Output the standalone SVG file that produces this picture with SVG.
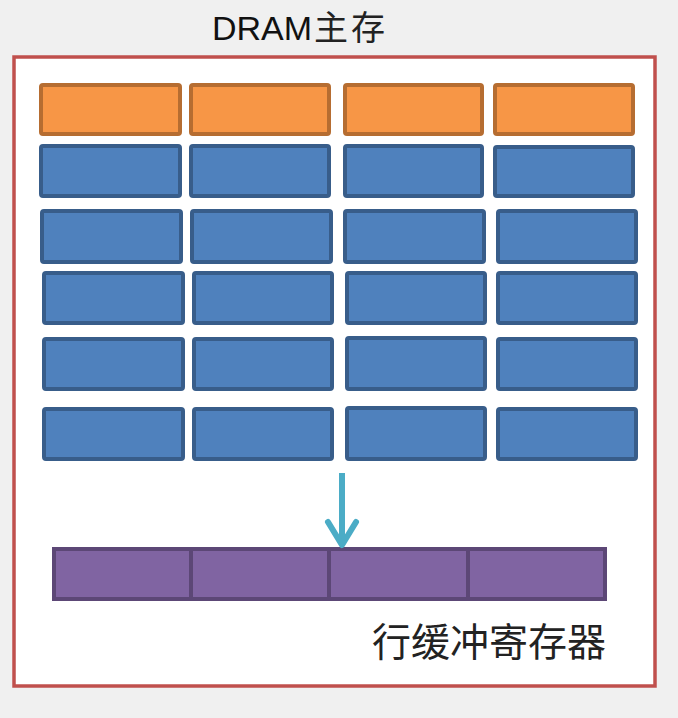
<svg xmlns="http://www.w3.org/2000/svg" width="678" height="718" viewBox="0 0 678 718">
<style>
.o{fill:#f79646;stroke:#b66d31;stroke-width:4}
.b{fill:#4f81bd;stroke:#385d8a;stroke-width:4}
.p{fill:#8064a2;stroke:#5c4776;stroke-width:4}
.t{font-family:"Liberation Sans","Noto Sans CJK SC",sans-serif;fill:#111}
.c{font-family:"Noto Sans CJK SC",sans-serif;fill:#222}
</style>
<rect width="678" height="718" fill="#f0f0f0"/>
<g id="frame">
<rect x="14" y="57" width="641" height="629" fill="#ffffff" stroke="#c0504d" stroke-width="3.5"/>
</g>
<g id="title"><text class="t" x="212" y="40" font-size="34">DRAM<tspan class="c" font-size="34" dx="2" letter-spacing="3">主存</tspan></text></g>
<g id="row1">
<rect class="o" x="41" y="85" width="139" height="49" rx="2"/>
<rect class="o" x="191" y="85" width="138" height="49" rx="2"/>
<rect class="o" x="345" y="85" width="137" height="49" rx="2"/>
<rect class="o" x="495" y="85" width="138" height="49" rx="2"/>
</g>
<g id="row2">
<rect class="b" x="41" y="146" width="139" height="50" rx="2"/>
<rect class="b" x="191" y="146" width="138" height="50" rx="2"/>
<rect class="b" x="345" y="146" width="137" height="50" rx="2"/>
<rect class="b" x="495" y="147" width="138" height="49" rx="2"/>
</g>
<g id="row3">
<rect class="b" x="42" y="211" width="139" height="51" rx="2"/>
<rect class="b" x="192" y="211" width="139" height="51" rx="2"/>
<rect class="b" x="345" y="211" width="139" height="51" rx="2"/>
<rect class="b" x="498" y="211" width="138" height="51" rx="2"/>
</g>
<g id="row4">
<rect class="b" x="44" y="273" width="139" height="50" rx="2"/>
<rect class="b" x="194" y="273" width="138" height="50" rx="2"/>
<rect class="b" x="347" y="273" width="138" height="50" rx="2"/>
<rect class="b" x="498" y="273" width="138" height="50" rx="2"/>
</g>
<g id="row5">
<rect class="b" x="44" y="339" width="139" height="50" rx="2"/>
<rect class="b" x="194" y="339" width="138" height="50" rx="2"/>
<rect class="b" x="347" y="338" width="138" height="51" rx="2"/>
<rect class="b" x="498" y="339" width="138" height="50" rx="2"/>
</g>
<g id="row6">
<rect class="b" x="44" y="409" width="139" height="50" rx="2"/>
<rect class="b" x="194" y="409" width="138" height="50" rx="2"/>
<rect class="b" x="347" y="408" width="138" height="51" rx="2"/>
<rect class="b" x="498" y="409" width="138" height="50" rx="2"/>
</g>
<g id="row-buffer">
<rect class="p" x="54" y="549" width="137" height="50"/>
<rect class="p" x="191" y="549" width="138" height="50"/>
<rect class="p" x="329" y="549" width="139" height="50"/>
<rect class="p" x="468" y="549" width="137" height="50"/>
</g>
<g id="connectors">
<line x1="342" y1="473" x2="342" y2="543" stroke="#4bacc6" stroke-width="6"/>
<polyline points="328,522 342,545 356,522" fill="none" stroke="#4bacc6" stroke-width="6" stroke-linejoin="round" stroke-linecap="round"/>
</g>
<g id="label"><text class="c" x="372" y="656" font-size="39">行缓冲寄存器</text></g>
</svg>
